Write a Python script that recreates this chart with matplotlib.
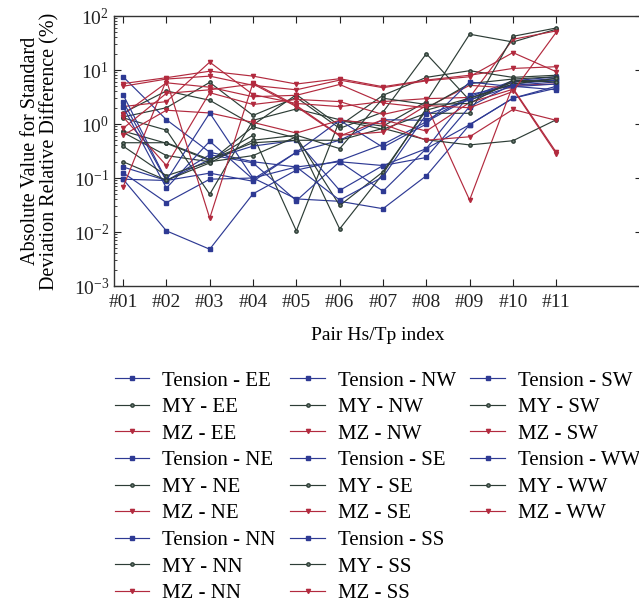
import numpy as np
import matplotlib.pyplot as plt
from matplotlib.lines import Line2D

plt.rcParams['font.family'] = ['Liberation Serif', 'DejaVu Serif']
plt.rcParams['mathtext.fontset'] = 'stix'

# x axis: Hs/Tp pair index
pairs = ['#01', '#02', '#03', '#04', '#05', '#06', '#07', '#08', '#09', '#10', '#11']
directions = ['EE', 'NE', 'NN', 'NW', 'SE', 'SS', 'SW', 'WW']

# absolute std relative difference (%), one row per direction
tension = [
    [7.5, 1.2, 0.30, 0.2, 0.16, 0.2, 0.17, 0.35, 0.97, 3.0, 4.6],
    [0.095, 0.0105, 0.0048, 0.051, 0.14, 0.21, 0.42, 1.1, 3.0, 6.0, 7.0],
    [0.125, 0.035, 0.095, 0.1, 0.041, 0.037, 0.027, 0.11, 0.97, 3.0, 5.0],
    [0.095, 0.09, 0.123, 0.087, 0.3, 0.5, 1.2, 1.17, 3.2, 6.3, 7.5],
    [3.5, 0.09, 0.22, 0.39, 0.5, 0.059, 0.17, 0.24, 2.1, 5.5, 6.5],
    [2.6, 0.088, 0.27, 0.19, 0.038, 0.2, 0.057, 0.35, 3.5, 5.2, 6.0],
    [2.1, 0.065, 0.48, 0.095, 0.3, 1.17, 0.37, 1.0, 6.0, 4.9, 5.5],
    [0.16, 0.09, 1.6, 0.1, 0.16, 0.039, 0.105, 1.5, 2.8, 5.0, 4.3],
]
my = [
    [1.6, 4.1, 2.75, 0.96, 3.5, 0.93, 3.4, 7.3, 9.7, 7.3, 8.0],
    [1.35, 2.0, 5.9, 1.44, 3.1, 0.83, 1.66, 20, 2.75, 6.0, 6.5],
    [1.3, 0.77, 0.05, 1.17, 1.9, 1.2, 0.91, 2.6, 46, 33, 57],
    [0.74, 0.44, 0.21, 0.62, 0.0105, 1.17, 0.8, 1.58, 1.58, 42, 60],
    [0.7, 0.26, 0.2, 0.89, 0.55, 0.0114, 0.12, 1.95, 5.6, 6.8, 7.5],
    [0.45, 0.45, 0.22, 0.45, 0.5, 0.5, 0.83, 0.51, 0.41, 0.49, 1.2],
    [0.39, 0.11, 0.2, 0.26, 0.58, 0.031, 0.13, 1.8, 3.0, 5.5, 7.0],
    [0.2, 0.091, 0.19, 0.5, 0.62, 0.35, 3.0, 2.3, 2.4, 6.5, 6.0],
]
mz = [
    [5.6, 7.2, 9.5, 7.7, 5.5, 6.9, 4.9, 6.5, 8.0, 10.7, 11.5],
    [5.0, 6.8, 7.7, 5.2, 4.3, 6.5, 4.7, 6.3, 7.5, 21, 9.3],
    [2.1, 2.6, 14, 3.5, 2.4, 2.1, 2.6, 2.95, 3.1, 37, 53],
    [1.5, 5.8, 4.8, 3.2, 3.4, 5.4, 2.45, 2.0, 5.2, 4.6, 0.30],
    [1.35, 0.17, 3.8, 2.3, 2.85, 2.6, 1.5, 2.25, 0.039, 5.2, 5.5],
    [0.83, 3.7, 4.3, 5.5, 2.1, 0.6, 1.2, 0.74, 2.5, 4.4, 0.28],
    [0.62, 1.8, 1.6, 1.07, 0.68, 1.17, 1.0, 0.5, 0.58, 1.86, 1.17],
    [0.068, 6.5, 0.018, 5.8, 2.2, 0.62, 0.71, 2.2, 2.0, 4.0, 50],
]

c_t = '#2e3a94'
c_my = '#2d3d36'
c_mz = '#b22a3e'

fig = plt.figure(figsize=(6.39, 6.06), dpi=100)
ax = fig.add_axes([114 / 639, 1 - 286 / 606, 528 / 639, 270 / 606])

x = np.arange(1, len(pairs) + 1)
for i, d in enumerate(directions):
    ax.plot(x, tension[i], color=c_t, lw=0.85, marker='s', ms=2.2, label='Tension - ' + d)
    ax.plot(x, my[i], color=c_my, lw=0.85, marker='o', ms=2.4, mfc='#6f7f75', label='MY - ' + d)
    ax.plot(x, mz[i], color=c_mz, lw=0.85, marker='v', ms=3.0, label='MZ - ' + d)

ax.set_yscale('log')
ax.set_ylim(1e-3, 1e2)
ax.set_xlim(0.79, 12.98)
ax.set_xticks(x)
ax.set_xticklabels(pairs)
ax.tick_params(which='both', direction='in', top=True, right=True, labelsize=14, colors='#222222')
ax.tick_params(which='major', length=5, width=0.8)
ax.tick_params(which='minor', length=2.5, width=0.6)
ax.tick_params(axis='x', pad=6)
for s in ax.spines.values():
    s.set_color('#333333')
    s.set_linewidth(1.0)

ax.set_xlabel('Pair Hs/Tp index', fontsize=14, labelpad=11)
ax.set_ylabel('Absolute Value for Standard\nDeviation Relative Difference (%)', fontsize=14.5,
              labelpad=10, linespacing=1.0)

# 9 rows per column like the original: pad the last column with blanks
handles, labels = ax.get_legend_handles_labels()
for _ in range(3):
    handles.append(Line2D([], [], linestyle='none'))
    labels.append('')

fig.legend(handles, labels, loc='upper left', bbox_to_anchor=(115 / 639, 1 - 371 / 606), ncol=3,
           frameon=False, fontsize=15, handlelength=1.65, handletextpad=0.62, columnspacing=0.7,
           labelspacing=0.335, borderpad=0, borderaxespad=0)

fig.savefig('out.png', dpi=100)
